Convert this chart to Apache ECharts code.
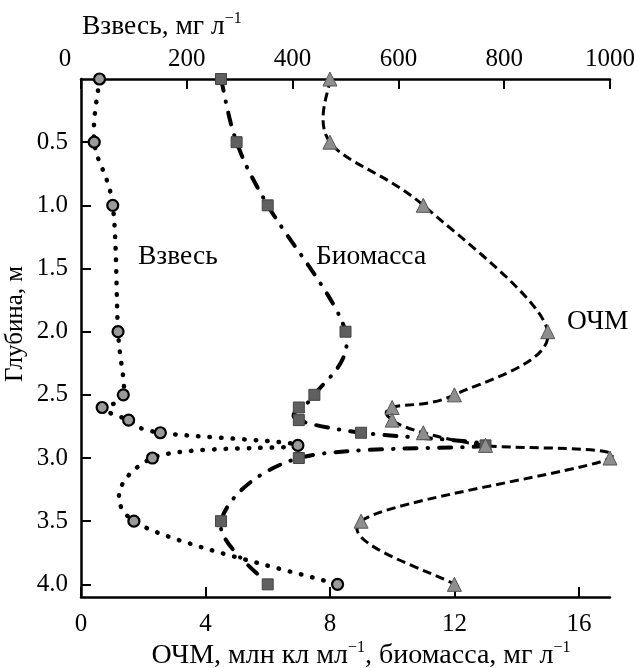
<!DOCTYPE html>
<html>
<head>
<meta charset="utf-8">
<script src="https://cdn.jsdelivr.net/npm/echarts@6/dist/echarts.min.js"></script>
<style>
  html, body { margin: 0; padding: 0; background: #fff; }
  #chart { width: 638px; height: 668px; }
</style>
</head>
<body>
<div id="chart"></div>
<script>
// глубина, м
var depths = [0, 0.5, 1.0, 2.0, 2.5, 2.6, 2.7, 2.8, 2.9, 3.0, 3.5, 4.0];
// взвесь, мг/л (верхняя ось)
var vzves = [35, 25, 60, 70, 80, 40, 90, 150, 410, 135, 100, 485];
// биомасса, мг/л (нижняя ось)
var biomassa = [4.5, 5.0, 6.0, 8.5, 7.5, 7.0, 7.0, 9.0, 13.0, 7.0, 4.5, 6.0];
// ОЧМ, млн кл/мл (нижняя ось)
var ochm = [8, 8, 11, 15, 12, 10, 10, 11, 13, 17, 9, 12];

var bottomTicks = [0, 4, 8, 12, 16];
var topTicks = [0, 200, 400, 600, 800, 1000];
var depthTicks = [0.5, 1.0, 1.5, 2.0, 2.5, 3.0, 3.5, 4.0];

var FONT = 'Liberation Serif';

function pairs(vals) {
  var out = [];
  for (var i = 0; i < vals.length; i++) {
    out.push([vals[i], depths[i]]);
  }
  return out;
}

// сглаживание как в Excel (Catmull-Rom -> кубические Безье)
function smoothPath(pts) {
  var d = 'M' + pts[0][0] + ' ' + pts[0][1];
  for (var i = 0; i < pts.length - 1; i++) {
    var p0 = pts[i - 1] || pts[i];
    var p1 = pts[i];
    var p2 = pts[i + 1];
    var p3 = pts[i + 2] || p2;
    var c1x = p1[0] + (p2[0] - p0[0]) / 6;
    var c1y = p1[1] + (p2[1] - p0[1]) / 6;
    var c2x = p2[0] - (p3[0] - p1[0]) / 6;
    var c2y = p2[1] - (p3[1] - p1[1]) / 6;
    d += ' C' + c1x + ' ' + c1y + ' ' + c2x + ' ' + c2y + ' ' + p2[0] + ' ' + p2[1];
  }
  return d;
}

function curveSeries(vals, xAxisIndex, lineStyle) {
  return {
    type: 'custom',
    xAxisIndex: xAxisIndex,
    z: 2,
    data: pairs(vals),
    renderItem: function (params, api) {
      if (params.dataIndex !== 0) return null;
      var pts = [];
      for (var i = 0; i < vals.length; i++) {
        pts.push(api.coord([vals[i], depths[i]]));
      }
      return {
        type: 'path',
        shape: { pathData: smoothPath(pts) },
        style: Object.assign({ fill: 'none', stroke: '#000' }, lineStyle)
      };
    }
  };
}

function markerSeries(name, vals, xAxisIndex, symbol, size, itemStyle) {
  return {
    name: name,
    type: 'scatter',
    xAxisIndex: xAxisIndex,
    z: 3,
    data: pairs(vals),
    symbol: symbol,
    symbolSize: size,
    itemStyle: itemStyle
  };
}

var axisLine = { onZero: false, lineStyle: { color: '#000', width: 2.5 } };
var axisTick = { inside: true, length: 10, lineStyle: { color: '#000', width: 2 } };
var labelStyle = { fontFamily: FONT, fontSize: 25, color: '#000' };
var supStyle = { fontFamily: FONT, fontSize: 16, fill: '#000', verticalAlign: 'top' };

var chart = echarts.init(document.getElementById('chart'));

var option = {
  animation: false,
  grid: { left: 81, right: 28, top: 79, bottom: 71, outerBoundsMode: 'none' },
  xAxis: [{
    type: 'value',
    position: 'bottom',
    min: 0,
    max: 17,
    axisLine: axisLine,
    axisTick: Object.assign({ customValues: bottomTicks }, axisTick),
    axisLabel: Object.assign({ customValues: bottomTicks, margin: 15 }, labelStyle),
    splitLine: { show: false }
  }, {
    type: 'value',
    position: 'top',
    min: 0,
    max: 1000,
    axisLine: axisLine,
    axisTick: Object.assign({ customValues: topTicks }, axisTick),
    axisLabel: Object.assign({
      customValues: topTicks,
      margin: 7,
      formatter: function (v) { return v === 0 ? '{z|0}' : String(v); },
      rich: { z: { fontFamily: FONT, fontSize: 25, color: '#000', padding: [0, 32, 0, 0] } }
    }, labelStyle),
    splitLine: { show: false }
  }],
  yAxis: {
    type: 'value',
    inverse: true,
    min: 0,
    max: 4.1,
    axisLine: axisLine,
    axisTick: Object.assign({ customValues: depthTicks }, axisTick),
    axisLabel: Object.assign({
      customValues: depthTicks,
      margin: 13,
      formatter: function (v) { return v.toFixed(1); }
    }, labelStyle),
    splitLine: { show: false }
  },
  series: [
    curveSeries(vzves, 1, { lineWidth: 4.5, lineDash: [0.5, 11], lineCap: 'round' }),
    curveSeries(biomassa, 0, { lineWidth: 4, lineDash: [12, 11, 0.5, 11], lineCap: 'round' }),
    curveSeries(ochm, 0, { lineWidth: 3, lineDash: [9, 5], lineCap: 'butt' }),
    markerSeries('Взвесь', vzves, 1, 'circle', 11,
      { color: '#9a9a9a', borderColor: '#000', borderWidth: 2.2, opacity: 1 }),
    markerSeries('Биомасса', biomassa, 0, 'rect', 11,
      { color: '#5f5f5f', borderColor: '#444', borderWidth: 1, opacity: 1 }),
    markerSeries('ОЧМ', ochm, 0, 'triangle', 14,
      { color: '#8e8e8e', borderColor: '#555', borderWidth: 1, opacity: 1 })
  ],
  graphic: [{
    type: 'text', x: 82, y: 27,
    style: {
      text: 'Взвесь, мг л{s|−1}',
      fontFamily: FONT, fontSize: 27.5, fill: '#000', lineHeight: 32,
      textAlign: 'left', textVerticalAlign: 'middle',
      rich: { s: supStyle }
    }
  }, {
    type: 'text', x: 361, y: 656,
    style: {
      text: 'ОЧМ, млн кл мл{s|−1}, биомасса, мг л{s|−1}',
      fontFamily: FONT, fontSize: 28, fill: '#000', lineHeight: 32,
      textAlign: 'center', textVerticalAlign: 'middle',
      rich: { s: supStyle }
    }
  }, {
    type: 'text', x: 15, y: 324, rotation: Math.PI / 2,
    style: {
      text: 'Глубина, м',
      fontFamily: FONT, fontSize: 25, fill: '#000',
      textAlign: 'center', textVerticalAlign: 'middle'
    }
  }, {
    type: 'text', x: 138, y: 257,
    style: { text: 'Взвесь', fontFamily: FONT, fontSize: 27.5, fill: '#000', textAlign: 'left', textVerticalAlign: 'middle' }
  }, {
    type: 'text', x: 316, y: 257,
    style: { text: 'Биомасса', fontFamily: FONT, fontSize: 27.5, fill: '#000', textAlign: 'left', textVerticalAlign: 'middle' }
  }, {
    type: 'text', x: 567, y: 322,
    style: { text: 'ОЧМ', fontFamily: FONT, fontSize: 27.5, fill: '#000', textAlign: 'left', textVerticalAlign: 'middle' }
  }]
};

chart.setOption(option);
</script>
</body>
</html>
